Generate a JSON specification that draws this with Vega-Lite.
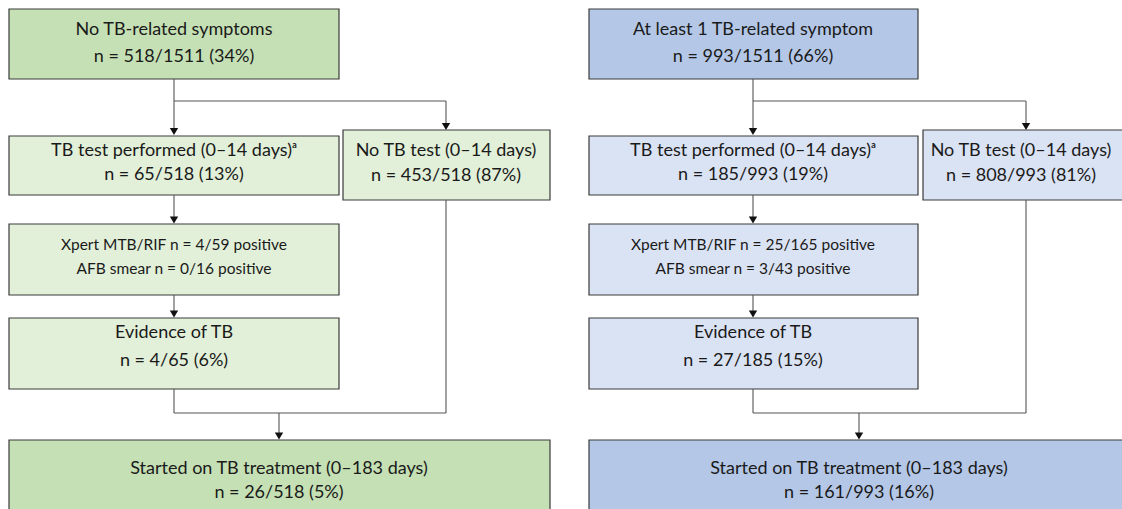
{
  "$schema": "https://vega.github.io/schema/vega-lite/v6.json",
  "width": 1122,
  "height": 509,
  "autosize": {"type": "none"},
  "padding": 0,
  "background": "white",
  "config": {"view": {"stroke": null}},
  "datasets": {
    "boxes": [
      {"x1": 9, "x2": 339, "y1": 9, "y2": 79, "tone": "green-dark"},
      {"x1": 9, "x2": 339, "y1": 136, "y2": 195, "tone": "green-light"},
      {"x1": 343, "x2": 550, "y1": 130, "y2": 200, "tone": "green-light"},
      {"x1": 9, "x2": 339, "y1": 224, "y2": 295, "tone": "green-light"},
      {"x1": 9, "x2": 339, "y1": 318, "y2": 389, "tone": "green-light"},
      {"x1": 9, "x2": 550, "y1": 440, "y2": 520, "tone": "green-dark"},
      {"x1": 589, "x2": 918, "y1": 9, "y2": 79, "tone": "blue-dark"},
      {"x1": 589, "x2": 918, "y1": 136, "y2": 195, "tone": "blue-light"},
      {"x1": 923, "x2": 1129, "y1": 130, "y2": 200, "tone": "blue-light"},
      {"x1": 589, "x2": 918, "y1": 224, "y2": 295, "tone": "blue-light"},
      {"x1": 589, "x2": 918, "y1": 318, "y2": 389, "tone": "blue-light"},
      {"x1": 589, "x2": 1129, "y1": 440, "y2": 520, "tone": "blue-dark"}
    ],
    "lines": [
      {"x1": 174, "y1": 79, "x2": 174, "y2": 131},
      {"x1": 174, "y1": 101, "x2": 446, "y2": 101},
      {"x1": 446, "y1": 101, "x2": 446, "y2": 126},
      {"x1": 174, "y1": 195, "x2": 174, "y2": 220},
      {"x1": 174, "y1": 295, "x2": 174, "y2": 314},
      {"x1": 174, "y1": 389, "x2": 174, "y2": 413},
      {"x1": 174, "y1": 413, "x2": 446, "y2": 413},
      {"x1": 446, "y1": 200, "x2": 446, "y2": 413},
      {"x1": 279, "y1": 413, "x2": 279, "y2": 436},
      {"x1": 753, "y1": 79, "x2": 753, "y2": 131},
      {"x1": 753, "y1": 101, "x2": 1026, "y2": 101},
      {"x1": 1026, "y1": 101, "x2": 1026, "y2": 126},
      {"x1": 753, "y1": 195, "x2": 753, "y2": 220},
      {"x1": 753, "y1": 295, "x2": 753, "y2": 314},
      {"x1": 753, "y1": 389, "x2": 753, "y2": 413},
      {"x1": 753, "y1": 413, "x2": 1026, "y2": 413},
      {"x1": 1026, "y1": 200, "x2": 1026, "y2": 413},
      {"x1": 859, "y1": 413, "x2": 859, "y2": 436}
    ],
    "arrows": [
      {"x": 174, "y": 131.5},
      {"x": 446, "y": 126.5},
      {"x": 174, "y": 220},
      {"x": 174, "y": 314},
      {"x": 279, "y": 436},
      {"x": 753, "y": 131.5},
      {"x": 1026, "y": 126.5},
      {"x": 753, "y": 220},
      {"x": 753, "y": 314},
      {"x": 859, "y": 436}
    ],
    "labels": [
      {"x": 174, "y": 30, "label": "No TB-related symptoms", "kind": "main"},
      {"x": 174, "y": 57, "label": "n = 518/1511 (34%)", "kind": "main"},
      {"x": 174, "y": 151, "label": "TB test performed (0–14 days)ᵃ", "kind": "main"},
      {"x": 174, "y": 175, "label": "n = 65/518 (13%)", "kind": "main"},
      {"x": 446, "y": 151, "label": "No TB test (0–14 days)", "kind": "main"},
      {"x": 446, "y": 176, "label": "n = 453/518 (87%)", "kind": "main"},
      {"x": 174, "y": 245, "label": "Xpert MTB/RIF n = 4/59 positive", "kind": "detail"},
      {"x": 174, "y": 269, "label": "AFB smear n = 0/16 positive", "kind": "detail"},
      {"x": 174, "y": 333, "label": "Evidence of TB", "kind": "main"},
      {"x": 174, "y": 361, "label": "n = 4/65 (6%)", "kind": "main"},
      {"x": 279, "y": 469, "label": "Started on TB treatment (0–183 days)", "kind": "main"},
      {"x": 279, "y": 493, "label": "n = 26/518 (5%)", "kind": "main"},
      {"x": 753, "y": 30, "label": "At least 1 TB-related symptom", "kind": "main"},
      {"x": 753, "y": 57, "label": "n = 993/1511 (66%)", "kind": "main"},
      {"x": 753, "y": 151, "label": "TB test performed (0–14 days)ᵃ", "kind": "main"},
      {"x": 753, "y": 175, "label": "n = 185/993 (19%)", "kind": "main"},
      {"x": 1021, "y": 151, "label": "No TB test (0–14 days)", "kind": "main"},
      {"x": 1021, "y": 176, "label": "n = 808/993 (81%)", "kind": "main"},
      {"x": 753, "y": 245, "label": "Xpert MTB/RIF n = 25/165 positive", "kind": "detail"},
      {"x": 753, "y": 269, "label": "AFB smear n = 3/43 positive", "kind": "detail"},
      {"x": 753, "y": 333, "label": "Evidence of TB", "kind": "main"},
      {"x": 753, "y": 361, "label": "n = 27/185 (15%)", "kind": "main"},
      {"x": 859, "y": 469, "label": "Started on TB treatment (0–183 days)", "kind": "main"},
      {"x": 859, "y": 493, "label": "n = 161/993 (16%)", "kind": "main"}
    ]
  },
  "layer": [
    {
      "data": {"name": "boxes"},
      "mark": {"type": "rect", "stroke": "#3a3a3a", "strokeWidth": 1.2},
      "encoding": {
        "x": {"field": "x1", "type": "quantitative", "scale": {"domain": [0, 1122], "nice": false, "zero": false}, "axis": null},
        "x2": {"field": "x2"},
        "y": {"field": "y1", "type": "quantitative", "scale": {"domain": [0, 509], "nice": false, "zero": false, "reverse": true}, "axis": null},
        "y2": {"field": "y2"},
        "fill": {"field": "tone", "type": "nominal", "legend": null,
          "scale": {"domain": ["green-dark", "green-light", "blue-dark", "blue-light"], "range": ["#c5e0b4", "#e2f0d9", "#b4c7e7", "#dae3f3"]}}
      }
    },
    {
      "data": {"name": "lines"},
      "mark": {"type": "rule", "color": "#555555", "strokeWidth": 1.1},
      "encoding": {
        "x": {"field": "x1", "type": "quantitative"},
        "x2": {"field": "x2"},
        "y": {"field": "y1", "type": "quantitative"},
        "y2": {"field": "y2"}
      }
    },
    {
      "data": {"name": "arrows"},
      "mark": {"type": "point", "shape": "triangle-down", "filled": true, "color": "#111111", "size": 70, "opacity": 1},
      "encoding": {
        "x": {"field": "x", "type": "quantitative"},
        "y": {"field": "y", "type": "quantitative"}
      }
    },
    {
      "data": {"name": "labels"},
      "mark": {"type": "text", "font": "Lato", "align": "center", "baseline": "middle", "color": "#1a1a1a"},
      "encoding": {
        "x": {"field": "x", "type": "quantitative"},
        "y": {"field": "y", "type": "quantitative"},
        "text": {"field": "label"},
        "size": {"field": "kind", "type": "nominal", "legend": null, "scale": {"domain": ["main", "detail"], "range": [18, 15.5]}}
      }
    }
  ]
}
